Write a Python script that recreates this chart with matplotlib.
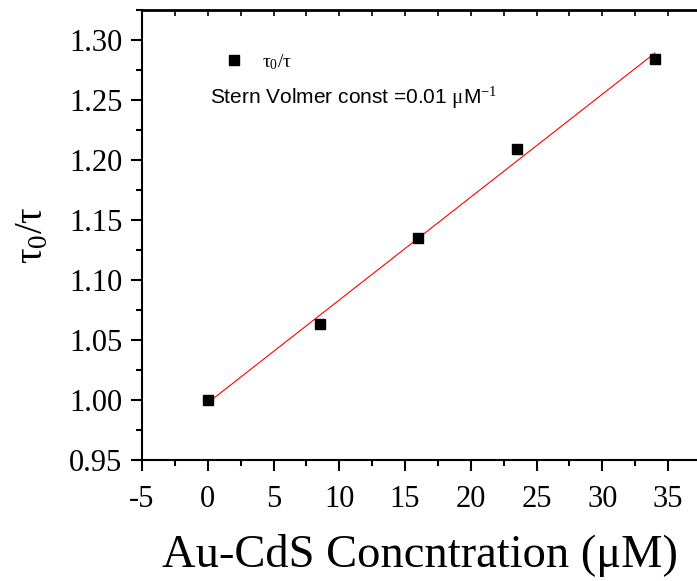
import numpy as np
import matplotlib
matplotlib.use("Agg")
import matplotlib.pyplot as plt
from matplotlib.ticker import MultipleLocator

plt.rcParams['mathtext.fontset'] = 'custom'
plt.rcParams['mathtext.rm'] = 'Liberation Serif'
plt.rcParams['mathtext.it'] = 'Liberation Serif'
plt.rcParams['mathtext.bf'] = 'Liberation Serif:bold'
plt.rcParams['axes.unicode_minus'] = False

# Au-CdS concentration (uM) and lifetime ratio tau0/tau
conc = [0.0, 8.5, 16.0, 23.5, 34.0]
ratio = [1.000, 1.063, 1.135, 1.209, 1.284]
x_ticks = [-5, 0, 5, 10, 15, 20, 25, 30, 35]
y_ticks = [0.95, 1.00, 1.05, 1.10, 1.15, 1.20, 1.25, 1.30]

fig = plt.figure(figsize=(6.97, 5.81), dpi=100)
ax = fig.add_axes([142/697, 121/581, 591.8/697, 450/581])

ax.plot(conc, ratio, 's', color='black', markersize=7, label=r'$\tau_0/\tau$', zorder=3)

# linear Stern-Volmer fit
slope, icpt = np.polyfit(conc, ratio, 1)
xf = np.array([conc[0], conc[-1]])
ax.plot(xf, icpt + slope * xf, '-', color='red', lw=0.8, zorder=2)

ax.set_xlim(-5, 40)
ax.set_ylim(0.95, 1.325)
ax.set_xticks(x_ticks)
ax.set_yticks(y_ticks)
ax.set_yticklabels([f"{v:.2f}" for v in y_ticks])
ax.xaxis.set_minor_locator(MultipleLocator(2.5))
ax.yaxis.set_minor_locator(MultipleLocator(0.025))

for s in ax.spines.values():
    s.set_linewidth(1.5)
ax.spines['top'].set_linewidth(2.0)

ax.tick_params(which='both', direction='out', width=1.5, top=False, right=False)
ax.tick_params(which='major', length=8)
ax.tick_params(which='minor', length=4)
ax.tick_params(axis='x', which='major', pad=10)
ax.tick_params(axis='y', which='major', pad=6)
for lab in ax.get_xticklabels() + ax.get_yticklabels():
    lab.set_fontfamily('Liberation Serif')
    lab.set_fontsize(22)

# inward ticks along the top edge
top = ax.secondary_xaxis('top')
top.set_xticks(x_ticks)
top.xaxis.set_minor_locator(MultipleLocator(2.5))
top.tick_params(which='both', direction='in', length=4, width=1.2, labeltop=False)
top.spines['top'].set_visible(False)

ax.set_ylabel(r'$\tau_0/\tau$', fontsize=28)
ax.yaxis.set_label_coords(-0.155, 0.5)

fig.text(420/697, 14/581, 'Au-CdS Concntration (μM)', ha='center', va='baseline',
         fontsize=33.5, family='Liberation Serif')

leg = ax.legend(loc='upper left', bbox_to_anchor=(0.093, 0.945), frameon=False,
                fontsize=14, handletextpad=0.45, markerscale=0.95)

ax.text(210/697, 1 - 98/581, r'Stern Volmer const =0.01 $\mathrm{\mu}$M$^{-1}$',
        transform=fig.transFigure, fontsize=15, family='Liberation Sans', va='center')

fig.savefig('out.png', dpi=100)
